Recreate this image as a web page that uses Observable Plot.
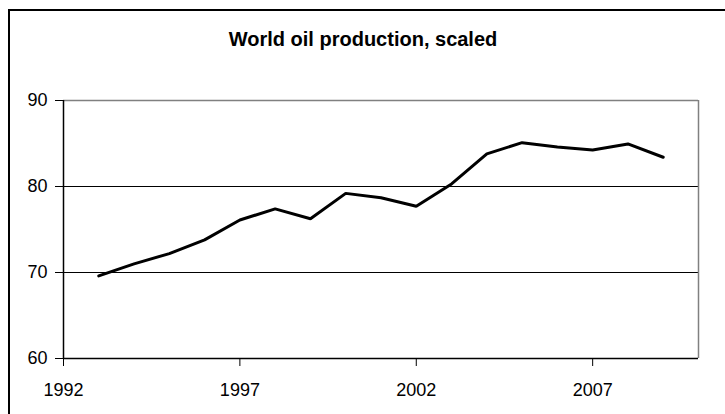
<!DOCTYPE html>
<html>
<head>
<meta charset="utf-8">
<script src="https://cdn.jsdelivr.net/npm/d3@7"></script>
<script src="https://cdn.jsdelivr.net/npm/@observablehq/plot@0.6"></script>
<style>
  html, body { margin: 0; padding: 0; background: #fff; }
  #wrap { position: relative; width: 725px; height: 414px; overflow: hidden; }
  /* chart-area border: only its top and left edges fall inside the page */
  #edge { position: absolute; left: 8px; top: 9px; right: -20px; bottom: -20px;
          border-left: 2px solid #000; border-top: 2px solid #000; }
  #chart { position: absolute; left: 0; top: 0; }
</style>
</head>
<body>
<div id="wrap"><div id="edge"></div><div id="chart"></div></div>
<script>
// World oil production (scaled), one value per year
const years = [1993, 1994, 1995, 1996, 1997, 1998, 1999, 2000, 2001, 2002, 2003, 2004, 2005, 2006, 2007, 2008, 2009];
const production = [69.6, 71.0, 72.2, 73.8, 76.1, 77.4, 76.25, 79.2, 78.7, 77.7, 80.3, 83.8, 85.1, 84.6, 84.25, 84.95, 83.4];
const xTicks = [1992, 1997, 2002, 2007];
const yTicks = [60, 70, 80, 90];
const title = "World oil production, scaled";

const rows = years.map((year, i) => ({year, value: production[i]}));

const chart = Plot.plot({
  width: 725,
  height: 414,
  marginLeft: 63,
  marginRight: 27,
  marginTop: 100,
  marginBottom: 56,
  style: {fontFamily: "'Liberation Sans', Arial, sans-serif", fontSize: "18px", background: "transparent", color: "#000", overflow: "visible"},
  x: {domain: [1992, 2010]},
  y: {domain: [60, 90]},
  marks: [
    Plot.ruleY([70, 80], {stroke: "#000", strokeWidth: 1}),
    Plot.ruleY([90], {stroke: "#808080", strokeWidth: 1.5}),
    Plot.ruleX([2010], {stroke: "#808080", strokeWidth: 1.5}),
    Plot.ruleY([60], {stroke: "#000", strokeWidth: 1.5}),
    Plot.ruleX([1992], {stroke: "#000", strokeWidth: 1.5}),
    Plot.axisX({ticks: xTicks, tickFormat: d => String(d), tickSize: 8, tickPadding: 17, label: null, fontSize: 18}),
    Plot.axisY({ticks: yTicks, tickSize: 8, tickPadding: 8, label: null, fontSize: 18}),
    Plot.line(rows, {x: "year", y: "value", stroke: "#000", strokeWidth: 3, strokeLinejoin: "miter"}),
    Plot.text([title], {frameAnchor: "top", dx: -18, dy: -60.5, lineAnchor: "middle", fontSize: 20, fontWeight: "bold", fill: "#000"})
  ]
});

document.getElementById("chart").append(chart);
</script>
</body>
</html>
